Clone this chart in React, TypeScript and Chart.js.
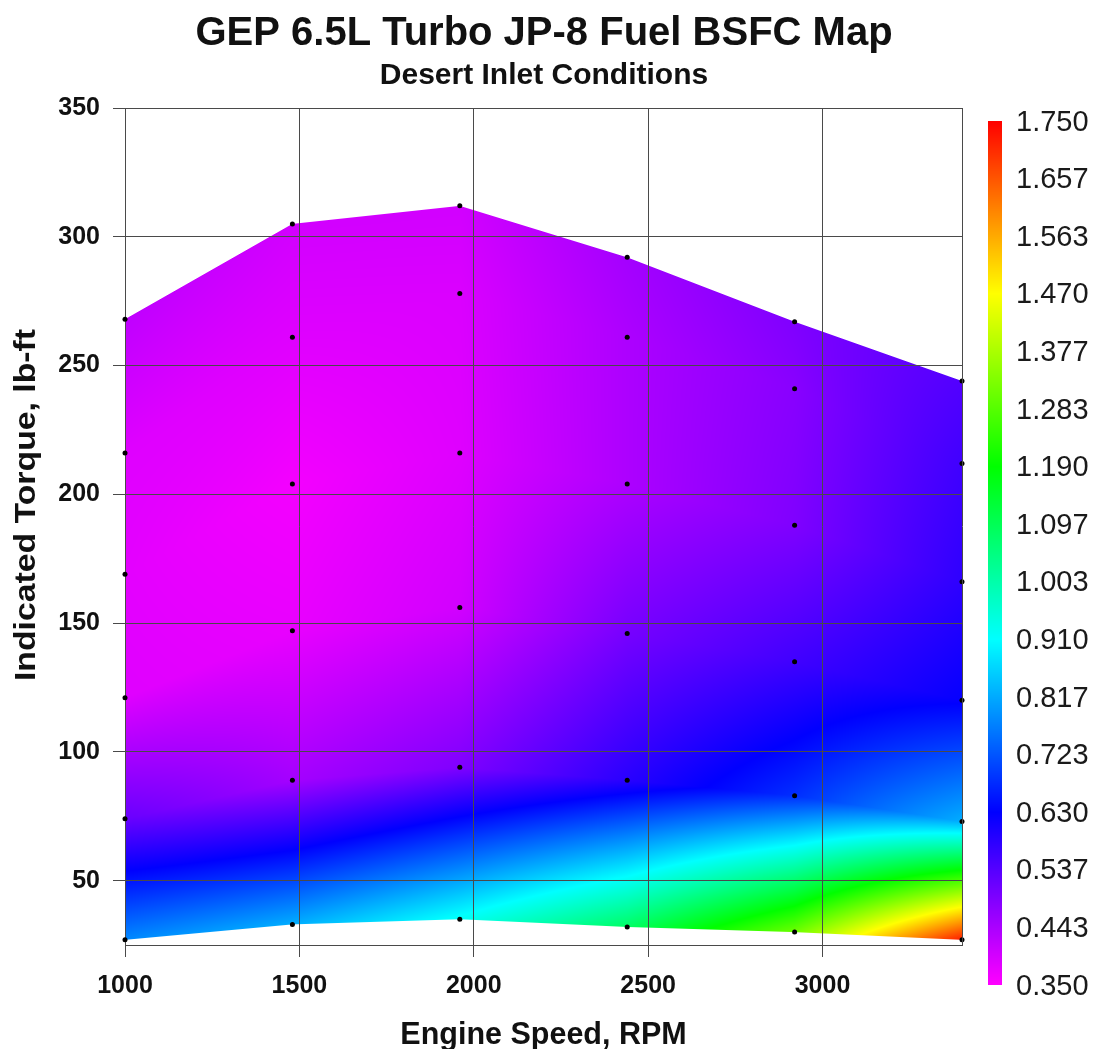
import React, { useEffect, useRef } from "react";
import { Chart, registerables } from "chart.js";

Chart.register(...registerables);

const titleText = "GEP 6.5L Turbo JP-8 Fuel BSFC Map";
const subtitleText = "Desert Inlet Conditions";
const xTitle = "Engine Speed, RPM";
const yTitle = "Indicated Torque, lb-ft";

const xTicks = [1000, 1500, 2000, 2500, 3000];
const yTicks = [50, 100, 150, 200, 250, 300, 350];
const colorbarLabels = ["1.750", "1.657", "1.563", "1.470", "1.377", "1.283", "1.190", "1.097", "1.003", "0.910", "0.817", "0.723", "0.630", "0.537", "0.443", "0.350"];

const speeds = [1000, 1480, 1960, 2440, 2920, 3400];
// each list runs from the full-load point down to the lowest load point
const torque1000 = [268, 216, 169, 121, 74, 27];
const torque1480 = [305, 261, 204, 147, 89, 33];
const torque1960 = [312, 278, 216, 156, 94, 35];
const torque2440 = [292, 261, 204, 146, 89, 32];
const torque2920 = [267, 241, 188, 135, 83, 30];
const torque3400 = [244, 212, 166, 120, 73, 27];
const bsfc1000 = [0.42, 0.385, 0.38, 0.385, 0.515, 0.78];
const bsfc1480 = [0.4, 0.385, 0.362, 0.375, 0.45, 0.82];
const bsfc1960 = [0.4, 0.39, 0.385, 0.4, 0.49, 0.92];
const bsfc2440 = [0.45, 0.44, 0.44, 0.5, 0.585, 1.08];
const bsfc2920 = [0.49, 0.48, 0.49, 0.56, 0.68, 1.31];
const bsfc3400 = [0.54, 0.56, 0.58, 0.625, 0.82, 1.72];

const torques = [torque1000, torque1480, torque1960, torque2440, torque2920, torque3400];
const bsfcs = [bsfc1000, bsfc1480, bsfc1960, bsfc2440, bsfc2920, bsfc3400];

const BSFC_MIN = 0.35;
const BSFC_MAX = 1.75;

function rainbow(v: number): [number, number, number] {
  const t = Math.min(1, Math.max(0, (BSFC_MAX - v) / (BSFC_MAX - BSFC_MIN)));
  const h = t * 5; // 0 red, 1 yellow, 2 green, 3 cyan, 4 blue, 5 magenta
  const i = Math.floor(h);
  const f = h - i;
  switch (i) {
    case 0: return [255, 255 * f, 0];
    case 1: return [255 * (1 - f), 255, 0];
    case 2: return [0, 255, 255 * f];
    case 3: return [0, 255 * (1 - f), 255];
    case 4: return [255 * f, 0, 255];
    default: return [255, 0, 255];
  }
}

const mapPlugin = {
  id: "bsfcMap",
  beforeDraw(chart: any) {
    const { ctx, chartArea, scales } = chart;
    const xs = scales.x;
    const ys = scales.y;
    const left = Math.round(chartArea.left);
    const top = Math.round(chartArea.top);
    const w = Math.round(chartArea.right) - left;
    const h = Math.round(chartArea.bottom) - top;
    const off = document.createElement("canvas");
    off.width = w;
    off.height = h;
    const octx = off.getContext("2d")!;
    const img = octx.createImageData(w, h);
    const rows = torque1000.length;
    for (let px = 0; px < w; px++) {
      const rpm = xs.getValueForPixel(left + px + 0.5);
      let c = 0;
      while (c < speeds.length - 2 && rpm > speeds[c + 1]) c++;
      const u = Math.min(1, Math.max(0, (rpm - speeds[c]) / (speeds[c + 1] - speeds[c])));
      const tq: number[] = [];
      const bs: number[] = [];
      for (let r = 0; r < rows; r++) {
        tq.push(torques[c][r] * (1 - u) + torques[c + 1][r] * u);
        bs.push(bsfcs[c][r] * (1 - u) + bsfcs[c + 1][r] * u);
      }
      const topPx = ys.getPixelForValue(tq[0]);
      const botPx = ys.getPixelForValue(tq[rows - 1]);
      for (let py = 0; py < h; py++) {
        const yPix = top + py + 0.5;
        const a = Math.min(1, yPix + 0.5 - topPx, botPx - (yPix - 0.5));
        if (a <= 0) continue;
        const t = ys.getValueForPixel(yPix);
        let r = 0;
        while (r < rows - 2 && t < tq[r + 1]) r++;
        const v0 = Math.min(1, Math.max(0, (tq[r] - t) / (tq[r] - tq[r + 1])));
        const [cr, cg, cb] = rainbow(bs[r] * (1 - v0) + bs[r + 1] * v0);
        const k = (py * w + px) * 4;
        img.data[k] = cr;
        img.data[k + 1] = cg;
        img.data[k + 2] = cb;
        img.data[k + 3] = Math.round(a * 255);
      }
    }
    octx.putImageData(img, 0, 0);
    ctx.drawImage(off, left, top);

    // colour bar
    const barX = 988;
    const barW = 14;
    const barTop = 121;
    const barBottom = 985;
    for (let y = barTop; y < barBottom; y++) {
      const v = BSFC_MAX - ((y + 0.5 - barTop) / (barBottom - barTop)) * (BSFC_MAX - BSFC_MIN);
      const [cr, cg, cb] = rainbow(v);
      ctx.fillStyle = `rgb(${cr},${cg},${cb})`;
      ctx.fillRect(barX, y, barW, 1);
    }
  },
  afterDraw(chart: any) {
    const { ctx, chartArea } = chart;
    ctx.save();
    ctx.strokeStyle = "#4a4a4a";
    ctx.lineWidth = 1;
    ctx.beginPath();
    ctx.moveTo(Math.round(chartArea.right) + 0.5, chartArea.top);
    ctx.lineTo(Math.round(chartArea.right) + 0.5, chartArea.bottom);
    ctx.stroke();
    // colour bar labels
    ctx.fillStyle = "#1a1a1a";
    ctx.font = "29px 'Liberation Sans'";
    ctx.textAlign = "left";
    ctx.textBaseline = "middle";
    colorbarLabels.forEach((label, i) => {
      ctx.fillText(label, 1016, 122.5 + (i * 864) / (colorbarLabels.length - 1));
    });
    // y axis title, set higher than the axis centre as in the source
    ctx.translate(35, 505);
    ctx.rotate(-Math.PI / 2);
    ctx.scale(1.126, 1);
    ctx.textAlign = "center";
    ctx.textBaseline = "alphabetic";
    ctx.fillStyle = "#111";
    ctx.font = "bold 30px 'Liberation Sans'";
    ctx.fillText(yTitle, 0, 0);
    ctx.restore();
  },
};

export default function App() {
  const ref = useRef<HTMLCanvasElement>(null);
  useEffect(() => {
    const points = speeds.flatMap((s, i) => torques[i].map((t) => ({ x: s, y: t })));
    const chart = new Chart(ref.current!, {
      type: "scatter",
      data: {
        datasets: [
          {
            label: "Test points",
            data: points,
            backgroundColor: "#000",
            borderColor: "#000",
            pointRadius: 2.5,
            borderWidth: 0,
            clip: false,
          },
        ],
      },
      options: {
        responsive: false,
        animation: false,
        layout: { autoPadding: false, padding: { left: 0, right: 8, top: 0, bottom: 0 } },
        plugins: {
          legend: { display: false },
          tooltip: { enabled: false },
          title: {
            display: true,
            text: titleText,
            color: "#111",
            font: { family: "'Liberation Sans'", size: 40, weight: "bold", lineHeight: 1.2 },
            padding: { top: 10, bottom: 0 },
          },
          subtitle: {
            display: true,
            text: subtitleText,
            color: "#111",
            font: { family: "'Liberation Sans'", size: 30, weight: "bold", lineHeight: 1.2 },
            padding: { top: 0, bottom: 14 },
          },
        },
        scales: {
          x: {
            type: "linear",
            min: 1000,
            max: 3400,
            afterFit: (s: any) => { s.height = 104; },
            afterBuildTicks: (s: any) => { s.ticks = xTicks.map((value) => ({ value })); },
            grid: { color: "#4a4a4a", lineWidth: 1, tickLength: 12, tickColor: "#4a4a4a" },
            border: { display: true, color: "#4a4a4a", width: 1 },
            ticks: {
              color: "#111",
              autoSkip: false,
              maxRotation: 0,
              padding: 14,
              font: { family: "'Liberation Sans'", size: 25, weight: "bold" },
              callback: (v: any) => String(v),
            },
            title: {
              display: true,
              text: xTitle,
              color: "#111",
              font: { family: "'Liberation Sans'", size: 30.5, weight: "bold" },
              padding: { top: 0, bottom: -5 },
            },
          },
          y: {
            type: "linear",
            min: 25,
            max: 350,
            afterFit: (s: any) => { s.width = 125; },
            afterBuildTicks: (s: any) => { s.ticks = yTicks.map((value) => ({ value })); },
            grid: { color: "#4a4a4a", lineWidth: 1, tickLength: 12, tickColor: "#4a4a4a" },
            border: { display: true, color: "#4a4a4a", width: 1 },
            ticks: {
              color: "#111",
              autoSkip: false,
              padding: 13,
              font: { family: "'Liberation Sans'", size: 25, weight: "bold" },
              callback: (v: any) => String(v),
            },
          },
          barSpace: {
            type: "linear",
            position: "right",
            display: true,
            afterFit: (s: any) => { s.width = 126; },
            grid: { display: false },
            border: { display: false },
            ticks: { display: false },
          },
        },
      } as any,
      plugins: [mapPlugin],
    });
    return () => chart.destroy();
  }, []);
  return (
    <div style={{ position: "absolute", left: 0, top: 0, width: 1096, height: 1049, background: "#fff" }}>
      <canvas ref={ref} width={1096} height={1049} style={{ display: "block" }} />
    </div>
  );
}
